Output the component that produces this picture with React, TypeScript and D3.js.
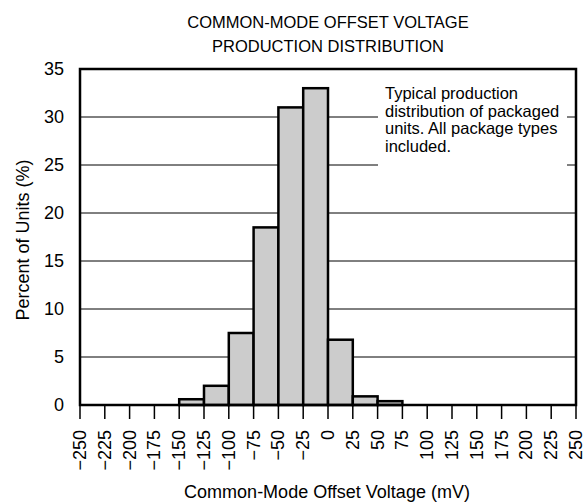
import { scaleLinear, range } from "d3"

const W = 588, H = 504
const ML = 80, MT = 69, MR = 12, MB = 99

// histogram bins: lower edge (mV) and share of units (%)
const binStarts = [-150, -125, -100, -75, -50, -25, 0, 25, 50]
const binValues = [0.6, 2, 7.5, 18.5, 31, 33, 6.8, 0.9, 0.4]
const BIN_WIDTH = 25

const xTickValues = range(-250, 251, 25)
const yTickValues = [0, 5, 10, 15, 20, 25, 30, 35]
const gridValues = [5, 10, 15, 20, 25, 30]

const titleLines = ["COMMON-MODE OFFSET VOLTAGE", "PRODUCTION DISTRIBUTION"]
const noteLines = [
  "Typical production",
  "distribution of packaged",
  "units. All package types",
  "included.",
]

const FONT = "'Liberation Sans', Arial, Helvetica, sans-serif"

function fmtTick(v: number): string {
  return v < 0 ? "\u2212" + Math.abs(v) : String(v)
}

export default function App() {
  const x = scaleLinear().domain([-250, 250]).range([ML, W - MR])
  const y = scaleLinear().domain([0, 35]).range([H - MB, MT])
  const IB = H - MB

  return (
    <svg width={W} height={H} style={{ position: "absolute", left: 0, top: 0, background: "#fff" }}
      fontFamily={FONT}>
      {/* title */}
      {titleLines.map((t, i) => (
        <text key={t} x={328} y={28 + i * 24} textAnchor="middle" fontSize={16.5} fill="#000">{t}</text>
      ))}

      {/* gridlines */}
      {gridValues.map(v => (
        <line key={v} x1={ML} x2={W - MR} y1={y(v)} y2={y(v)} stroke="#000" strokeWidth={1} />
      ))}

      {/* note box knocks out the gridlines */}
      <rect x={378} y={80} width={189} height={92} fill="#fff" />
      <text fontSize={16.5} fill="#000">
        {noteLines.map((t, i) => (
          <tspan key={t} x={385} y={99 + i * 17.7}>{t}</tspan>
        ))}
      </text>

      {/* bars */}
      {binStarts.map((b, i) => (
        <rect key={b}
          x={x(b)} y={y(binValues[i])}
          width={x(b + BIN_WIDTH) - x(b)} height={IB - y(binValues[i])}
          fill="#cccccc" stroke="#000" strokeWidth={2.5} />
      ))}

      {/* frame */}
      <rect x={ML} y={MT} width={W - MR - ML} height={IB - MT} fill="none" stroke="#000" strokeWidth={2.5} />

      {/* x ticks */}
      {xTickValues.map(v => (
        <g key={v} transform={`translate(${x(v)},0)`}>
          <line y1={IB} y2={IB + 14} stroke="#000" strokeWidth={1.5} />
          <text transform={`translate(0,${IB + 25}) rotate(-90)`} textAnchor="end"
            dominantBaseline="central" fontSize={18} fill="#000">{fmtTick(v)}</text>
        </g>
      ))}

      {/* y ticks */}
      {yTickValues.map(v => (
        <text key={v} x={64} y={y(v)} textAnchor="end" dominantBaseline="central" fontSize={18} fill="#000">{v}</text>
      ))}

      {/* axis titles */}
      <text x={327} y={498} textAnchor="middle" fontSize={18} fill="#000">Common-Mode Offset Voltage (mV)</text>
      <text transform={`translate(29,${(MT + IB) / 2 + 3}) rotate(-90)`} textAnchor="middle" fontSize={18} fill="#000">
        Percent of Units (%)
      </text>
    </svg>
  )
}
